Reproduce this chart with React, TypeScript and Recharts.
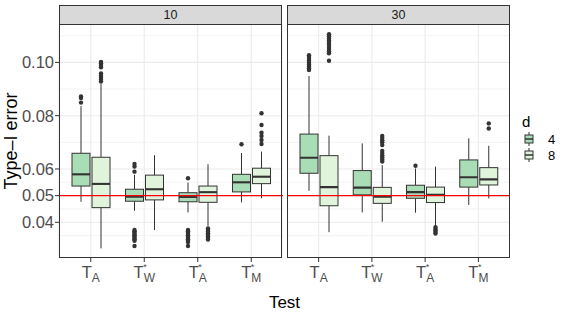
import React from "react"
import { ComposedChart, Bar, XAxis, YAxis, CartesianGrid, ReferenceLine } from "recharts"

// test labels: base letter, subscript, starred or not
const testSub = ["A", "W", "A", "M"]
const testStar = [false, true, true, true]
const facets = ["10", "30"]
const dLevels = ["4", "8"]
const fills = ["#A8DDB5", "#E0F3DB"]

const yTicks = [0.04, 0.05, 0.06, 0.08, 0.1]
const yMinor = [0.03, 0.035, 0.045, 0.055, 0.07, 0.09, 0.105, 0.11]
const yDomain = [0.0266, 0.1144]

// [lower whisker, Q1, median, Q3, upper whisker] per test
const box10d4 = [
  [0.0477, 0.0536, 0.058, 0.0659, 0.0836],
  [0.0443, 0.0479, 0.0496, 0.0524, 0.0578],
  [0.0437, 0.0477, 0.0495, 0.0511, 0.0549],
  [0.0475, 0.0514, 0.055, 0.058, 0.066],
]
const box10d8 = [
  [0.0302, 0.0455, 0.0544, 0.0644, 0.0919],
  [0.0371, 0.0484, 0.0524, 0.0577, 0.0652],
  [0.0386, 0.0475, 0.0513, 0.0536, 0.0618],
  [0.049, 0.0545, 0.0571, 0.0603, 0.0665],
]
const box30d4 = [
  [0.0518, 0.0584, 0.0642, 0.0731, 0.0949],
  [0.0437, 0.0503, 0.053, 0.0594, 0.0696],
  [0.0436, 0.049, 0.0513, 0.0539, 0.0602],
  [0.0465, 0.0532, 0.0569, 0.0634, 0.0715],
]
const box30d8 = [
  [0.0363, 0.0462, 0.0532, 0.065, 0.0725],
  [0.0402, 0.0471, 0.0496, 0.0531, 0.0615],
  [0.0386, 0.0474, 0.0503, 0.0532, 0.0609],
  [0.049, 0.054, 0.0561, 0.0605, 0.0687],
]

// outliers per test
const out10d4 = [
  [0.0849, 0.0866, 0.0872],
  [0.059, 0.0609, 0.0619, 0.0371, 0.0366, 0.0361, 0.0356, 0.0351, 0.0346, 0.0341, 0.0336, 0.0331, 0.0311],
  [0.0565, 0.0371, 0.0366, 0.0361, 0.0356, 0.0351, 0.0346, 0.0341, 0.0336, 0.0331, 0.0326, 0.0311],
  [0.0693],
]
const out10d8 = [
  [0.1002, 0.0996, 0.099, 0.0982, 0.0958, 0.095, 0.0942, 0.0935, 0.0928],
  [],
  [0.0377, 0.0371, 0.0365, 0.0359, 0.0353, 0.0347, 0.0341, 0.0335],
  [0.0694, 0.0709, 0.0724, 0.0736, 0.0765, 0.0809],
]
const out30d4 = [
  [0.0971, 0.0978, 0.0985, 0.0992, 0.0999, 0.1006, 0.1013, 0.102, 0.1027],
  [],
  [0.0612],
  [],
]
const out30d8 = [
  [0.1006, 0.1034, 0.1042, 0.105, 0.1058, 0.1066, 0.1074, 0.1082, 0.109, 0.1098, 0.1106],
  [0.0628, 0.0636, 0.0644, 0.0652, 0.066, 0.0668, 0.069, 0.07, 0.0708, 0.0716, 0.0724],
  [0.0382, 0.0376, 0.037, 0.0364, 0.0358],
  [0.0752, 0.0771],
]

const buildRows = (b4: number[][], b8: number[][], o4: number[][], o8: number[][]) =>
  testSub.map((_, i) => ({
    idx: i,
    b4: b4[i], b8: b8[i], o4: o4[i], o8: o8[i],
    r4: [Math.min(b4[i][0], ...o4[i]), Math.max(b4[i][4], ...o4[i])],
    r8: [Math.min(b8[i][0], ...o8[i]), Math.max(b8[i][4], ...o8[i])],
  }))

const facetRows = [
  buildRows(box10d4, box10d8, out10d4, out10d8),
  buildRows(box30d4, box30d8, out30d4, out30d8),
]

const FONT = "'Liberation Sans', Arial, Helvetica, sans-serif"
const LINE = "#333333"

// boxplot drawn inside the range bar; value -> pixel from the bar's own scaled extent
const makeBox = (k: "4" | "8", fill: string) => (props: any) => {
  const { x, y, width, height, payload } = props
  const [a, b] = payload["r" + k]
  const box = payload["b" + k]
  const outs: number[] = payload["o" + k]
  const top = Math.min(y, y + height)
  const h = Math.abs(height)
  const py = (v: number) => (b === a ? top : top + ((b - v) / (b - a)) * h)
  const cx = x + width / 2
  return (
    <g>
      <line x1={cx} x2={cx} y1={py(box[4])} y2={py(box[3])} stroke={LINE} strokeWidth={1} />
      <line x1={cx} x2={cx} y1={py(box[1])} y2={py(box[0])} stroke={LINE} strokeWidth={1} />
      <rect x={x} y={py(box[3])} width={width} height={py(box[1]) - py(box[3])} fill={fill} stroke={LINE} strokeWidth={1} />
      <line x1={x} x2={x + width} y1={py(box[2])} y2={py(box[2])} stroke={LINE} strokeWidth={2.1} />
      {outs.map((v, j) => (
        <circle key={j} cx={cx} cy={py(v)} r={2.2} fill={LINE} />
      ))}
    </g>
  )
}

const charW: Record<string, number> = { T: 0.611, A: 0.667, W: 0.944, M: 0.833 }

const TestTick = (props: any) => {
  const { x, y, payload } = props
  const i = payload.value
  const sub = testSub[i]
  const wT = charW.T * 16.5
  const wS = charW[sub] * 12
  const left = -(wT + wS) / 2
  return (
    <g transform={`translate(${x},${y})`} fontFamily={FONT} fill="#4D4D4D">
      <text x={left} y={15.5} fontSize={16.5}>T</text>
      <text x={left + wT} y={20} fontSize={12}>{sub}</text>
      {testStar[i] && (
        <text x={left + wT - 0.5} y={8} fontSize={9}>*</text>
      )}
    </g>
  )
}

const Panel = ({ f, showY }: { f: number; showY: boolean }) => (
  <ComposedChart
    width={showY ? 283 : 223}
    height={313}
    data={facetRows[f]}
    margin={{ top: 24, right: 0, bottom: 0, left: 0 }}
    barGap={2}
  >
    <CartesianGrid horizontalValues={yMinor} vertical={false} stroke="#EBEBEB" strokeWidth={0.6} />
    <CartesianGrid horizontalValues={yTicks} stroke="#EBEBEB" strokeWidth={1.1} />
    <XAxis
      dataKey="idx"
      type="category"
      height={55}
      padding={{ left: 5, right: 5 }}
      axisLine={false}
      tickLine={{ stroke: LINE }}
      tickSize={4}
      tickMargin={0}
      tick={<TestTick />}
      interval={0}
    />
    <YAxis
      type="number"
      domain={yDomain}
      allowDataOverflow
      ticks={yTicks}
      hide={!showY}
      width={showY ? 59 : 0}
      axisLine={false}
      tickLine={{ stroke: LINE }}
      tickSize={4}
      tickMargin={1}
      tickFormatter={(v: number) => v.toFixed(2)}
      tick={{ fill: "#4D4D4D", fontSize: 16.5, fontFamily: FONT }}
    />
    <Bar dataKey="r4" barSize={18} isAnimationActive={false} shape={makeBox("4", fills[0])} />
    <Bar dataKey="r8" barSize={18} isAnimationActive={false} shape={makeBox("8", fills[1])} />
    <ReferenceLine y={0.05} stroke="#FF0000" strokeWidth={1.3} />
  </ComposedChart>
)

const LegendKey = ({ fill }: { fill: string }) => (
  <svg width={10} height={14} style={{ display: "block" }}>
    <line x1={5} x2={5} y1={0} y2={14} stroke={LINE} strokeWidth={1} />
    <rect x={1} y={3} width={8} height={8} fill={fill} stroke={LINE} strokeWidth={1} />
    <line x1={1} x2={9} y1={7} y2={7} stroke={LINE} strokeWidth={1.5} />
  </svg>
)

export default function App() {
  const panelLeft = [59, 287]
  return (
    <div style={{ position: "absolute", left: 0, top: 0, width: 563, height: 313, background: "#fff", fontFamily: FONT }}>
      {facets.map((lab, f) => (
        <React.Fragment key={lab}>
          <div style={{ position: "absolute", left: f === 0 ? 0 : panelLeft[1], top: 0 }}>
            <Panel f={f} showY={f === 0} />
          </div>
          <div
            style={{
              position: "absolute", left: panelLeft[f], top: 24, width: 223, height: 234,
              boxSizing: "border-box", border: `1px solid ${LINE}`, pointerEvents: "none",
            }}
          />
          <div
            style={{
              position: "absolute", left: panelLeft[f], top: 5, width: 223, height: 20,
              boxSizing: "border-box", border: `1px solid ${LINE}`, background: "#D9D9D9",
              color: "#1A1A1A", fontSize: 12.5, lineHeight: "18px", textAlign: "center",
            }}
          >
            {lab}
          </div>
        </React.Fragment>
      ))}
      <svg width={563} height={313} style={{ position: "absolute", left: 0, top: 0, pointerEvents: "none" }}>
        <text transform="translate(17,141) rotate(-90)" textAnchor="middle" fontSize={18} fill="#000" fontFamily={FONT}>
          Type–I error
        </text>
        <text x={284.5} y={308} textAnchor="middle" fontSize={17} fill="#000" fontFamily={FONT}>
          Test
        </text>
      </svg>
      <div style={{ position: "absolute", left: 522, top: 113, color: "#000" }}>
        <div style={{ fontSize: 15, lineHeight: "18px" }}>d</div>
        {dLevels.map((d, i) => (
          <div key={d} style={{ display: "flex", alignItems: "center", height: 16 }}>
            <div style={{ marginLeft: 2, marginRight: 14 }}>
              <LegendKey fill={fills[i]} />
            </div>
            <span style={{ fontSize: 13 }}>{d}</span>
          </div>
        ))}
      </div>
    </div>
  )
}
